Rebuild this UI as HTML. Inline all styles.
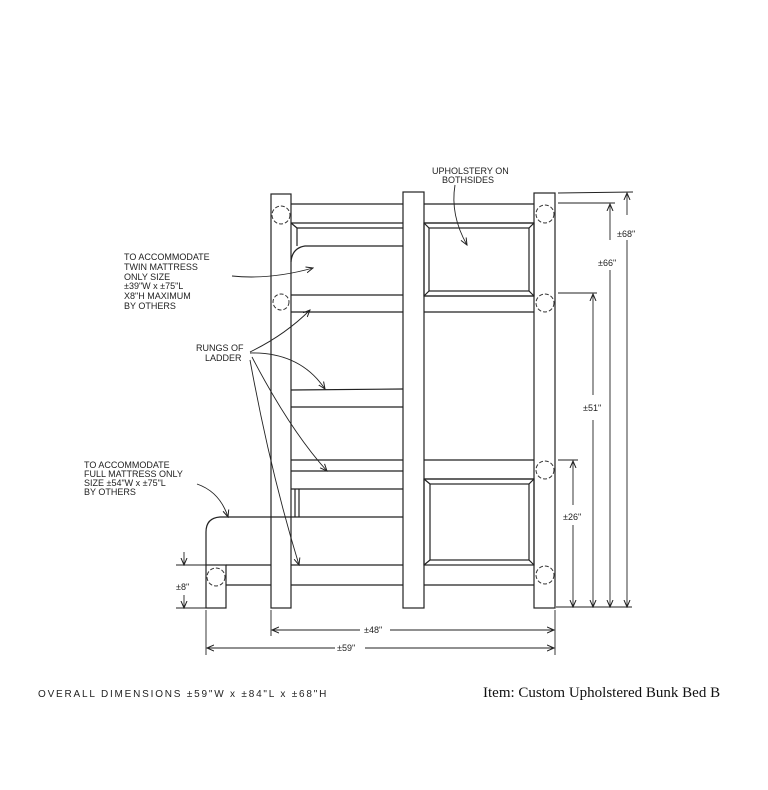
<!DOCTYPE html>
<html><head><meta charset="utf-8"><style>
html,body{margin:0;padding:0;background:#fff}
svg{display:block}
.h{font-family:"Liberation Sans",sans-serif;font-size:9px;fill:#222}
</style></head><body>
<svg width="768" height="790" viewBox="0 0 768 790" xmlns="http://www.w3.org/2000/svg">
<defs><marker id="a" markerWidth="8" markerHeight="8" refX="7" refY="4" orient="auto" markerUnits="userSpaceOnUse"><path d="M0,1 L7,4 L0,7" fill="none" stroke="#222" stroke-width="1"/></marker></defs>
<g fill="none" stroke="#222" stroke-width="1.2">
<rect x="271" y="194" width="20" height="414"/>
<rect x="403" y="192" width="21" height="416"/>
<rect x="534" y="193" width="21" height="415"/>
<rect x="206" y="565" width="20" height="43"/>
<line x1="291" y1="204" x2="403" y2="204"/><line x1="424" y1="204" x2="534" y2="204"/>
<line x1="291" y1="223" x2="403" y2="223"/><line x1="424" y1="223" x2="534" y2="223"/>
<line x1="291" y1="223" x2="297" y2="228"/><line x1="297" y1="228" x2="403" y2="228"/>
<line x1="297" y1="228" x2="297" y2="246"/>
<path d="M403,246 L305,246 Q292,248 291,262"/>
<rect x="424" y="223" width="110" height="73"/>
<rect x="429" y="228" width="100" height="63"/>
<line x1="424" y1="223" x2="429" y2="228"/><line x1="534" y1="223" x2="529" y2="228"/>
<line x1="424" y1="296" x2="429" y2="291"/><line x1="534" y1="296" x2="529" y2="291"/>
<line x1="291" y1="295" x2="403" y2="295"/><line x1="424" y1="296" x2="534" y2="296"/>
<line x1="291" y1="312" x2="403" y2="312"/><line x1="424" y1="312" x2="534" y2="312"/>
<line x1="291" y1="390" x2="403" y2="389"/><line x1="291" y1="407" x2="403" y2="407"/>
<line x1="291" y1="460" x2="403" y2="460"/><line x1="424" y1="460" x2="534" y2="460"/>
<line x1="291" y1="471" x2="403" y2="471"/>
<line x1="291" y1="489" x2="403" y2="489"/>
<line x1="295" y1="489" x2="295" y2="517"/><line x1="299" y1="489" x2="299" y2="517"/>
<line x1="424" y1="479" x2="534" y2="479"/>
<rect x="424" y="479" width="110" height="86"/>
<rect x="430" y="484" width="99" height="76"/>
<line x1="424" y1="479" x2="430" y2="484"/><line x1="534" y1="479" x2="529" y2="484"/>
<line x1="424" y1="565" x2="430" y2="560"/><line x1="534" y1="565" x2="529" y2="560"/>
<path d="M403,517 L220,517 Q206,518 206,532 L206,565"/>
<line x1="226" y1="565" x2="271" y2="565"/><line x1="291" y1="565" x2="403" y2="565"/>
<line x1="226" y1="585" x2="271" y2="585"/><line x1="291" y1="585" x2="403" y2="585"/><line x1="424" y1="585" x2="534" y2="585"/>
</g>
<g fill="none" stroke="#333" stroke-width="1" stroke-dasharray="4,2">
<circle cx="281" cy="215" r="9"/><circle cx="281" cy="302" r="8"/>
<circle cx="545" cy="214" r="9"/><circle cx="545" cy="303" r="9"/>
<circle cx="545" cy="470" r="9"/><circle cx="545" cy="575" r="9"/>
<circle cx="216" cy="577" r="9"/>
</g>
<g fill="none" stroke="#222" stroke-width="0.9">
<line x1="558" y1="193" x2="633" y2="192"/>
<line x1="558" y1="203" x2="615" y2="203"/>
<line x1="558" y1="293" x2="597" y2="293"/>
<line x1="558" y1="460" x2="578" y2="460"/>
<line x1="556" y1="607" x2="632" y2="607"/>
<line x1="627" y1="215" x2="627" y2="193" marker-end="url(#a)"/><line x1="627" y1="240" x2="627" y2="607" marker-end="url(#a)"/>
<line x1="610" y1="240" x2="610" y2="204" marker-end="url(#a)"/><line x1="610" y1="270" x2="610" y2="607" marker-end="url(#a)"/>
<line x1="593" y1="395" x2="593" y2="294" marker-end="url(#a)"/><line x1="593" y1="420" x2="593" y2="607" marker-end="url(#a)"/>
<line x1="573" y1="505" x2="573" y2="461" marker-end="url(#a)"/><line x1="573" y1="525" x2="573" y2="607" marker-end="url(#a)"/>
<line x1="271" y1="610" x2="271" y2="636"/><line x1="555" y1="610" x2="555" y2="655"/><line x1="206" y1="610" x2="206" y2="655"/>
<line x1="360" y1="630" x2="272" y2="630" marker-end="url(#a)"/><line x1="390" y1="630" x2="554" y2="630" marker-end="url(#a)"/>
<line x1="335" y1="648" x2="207" y2="648" marker-end="url(#a)"/><line x1="365" y1="648" x2="554" y2="648" marker-end="url(#a)"/>
<line x1="176" y1="565" x2="206" y2="565"/><line x1="176" y1="608" x2="206" y2="608"/>
<line x1="184" y1="552" x2="184" y2="565" marker-end="url(#a)"/><line x1="184" y1="595" x2="184" y2="608" marker-end="url(#a)"/>
<path d="M232,276 Q270,280 313,268" marker-end="url(#a)"/>
<path d="M250,352 Q285,335 310,310" marker-end="url(#a)"/>
<path d="M250,353 Q300,352 325,389" marker-end="url(#a)"/>
<path d="M252,357 Q290,430 327,471" marker-end="url(#a)"/>
<path d="M250,360 Q270,470 299,565" marker-end="url(#a)"/>
<path d="M197,484 Q220,492 228,517" marker-end="url(#a)"/>
<path d="M455,185 Q450,215 467,245" marker-end="url(#a)"/>
</g>
<g class="h">
<text x="432" y="174">UPHOLSTERY ON</text><text x="442" y="183">BOTHSIDES</text>
<text x="124" y="260">TO ACCOMMODATE</text>
<text x="124" y="270">TWIN MATTRESS</text>
<text x="124" y="280">ONLY SIZE</text>
<text x="124" y="289">±39"W  x ±75"L</text>
<text x="124" y="299">X8"H MAXIMUM</text>
<text x="124" y="309">BY OTHERS</text>
<text x="196" y="351">RUNGS OF</text><text x="205" y="361">LADDER</text>
<text x="84" y="468">TO ACCOMMODATE</text>
<text x="84" y="477">FULL MATTRESS ONLY</text>
<text x="84" y="486">SIZE ±54"W x ±75"L</text>
<text x="84" y="495">BY OTHERS</text>
<text x="617" y="237">±68"</text>
<text x="598" y="266">±66"</text>
<text x="583" y="411">±51"</text>
<text x="563" y="520">±26"</text>
<text x="364" y="633">±48"</text>
<text x="337" y="651">±59"</text>
<text x="176" y="590">±8"</text>
<text x="38" y="697" style="font-size:10px;letter-spacing:1.8px">OVERALL DIMENSIONS  ±59"W  x  ±84"L  x ±68"H</text>
</g>
<text x="483" y="697" style="font-family:'Liberation Serif',serif;font-size:15px" fill="#111">Item: Custom Upholstered Bunk Bed B</text>
</svg>
</body></html>
